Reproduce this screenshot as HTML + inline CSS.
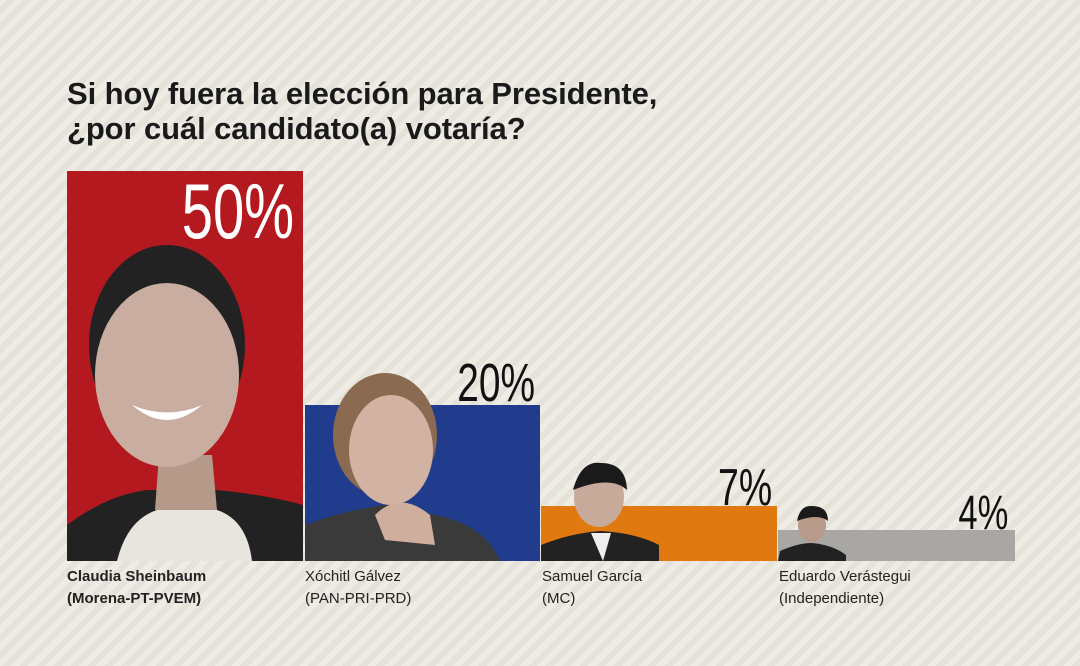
<!DOCTYPE html>
<html><head><meta charset="utf-8"><style>
body{margin:0}
#c{position:relative;width:1080px;height:666px;overflow:hidden;background:#e8e5dc;
background-image:repeating-linear-gradient(-45deg,#e5e2d9 0 6px,#eeece5 6px 12px);
font-family:"Liberation Sans",sans-serif}
.t{position:absolute;left:67px;font-weight:bold;font-size:31px;color:#1a1a1a;letter-spacing:-0.1px}
.bar{position:absolute}
.p{position:absolute;font-family:"Liberation Sans Narrow","Liberation Sans",sans-serif;transform:scaleX(0.72);transform-origin:right bottom;line-height:1;text-align:right}
.l{position:absolute;top:566px;font-size:15px;line-height:22px;color:#222}
</style></head><body><div id="c">
<div class="t" style="top:76px">Si hoy fuera la elección para Presidente,</div>
<div class="t" style="top:111px">¿por cuál candidato(a) votaría?</div>

<div class="bar" style="left:67px;top:171px;width:236px;height:390px;background:#b3191e"></div>
<svg style="position:absolute;left:67px;top:240px" width="236" height="321">
<path d="M0 321 L0 285 Q40 255 80 250 L150 250 Q200 255 236 265 L236 321Z" fill="#222"/>
<path d="M50 321 Q60 280 90 270 L150 270 Q180 280 185 321Z" fill="#e8e4de"/>
<path d="M88 270 L150 270 L145 215 L92 215Z" fill="#b59a8a"/>
<ellipse cx="100" cy="105" rx="78" ry="100" fill="#222"/>
<ellipse cx="100" cy="135" rx="72" ry="92" fill="#c9ada0"/>
<path d="M65 165 Q100 195 135 165 Q100 180 65 165Z" fill="#fff"/>
</svg>
<div class="p" style="right:786px;top:172px;font-size:78px;color:#fff">50%</div>

<div class="bar" style="left:305px;top:405px;width:235px;height:156px;background:#213c8c"></div>
<svg style="position:absolute;left:305px;top:365px" width="235" height="196">
<ellipse cx="80" cy="70" rx="52" ry="62" fill="#8a6a50"/>
<ellipse cx="86" cy="85" rx="42" ry="55" fill="#d2b2a2"/>
<path d="M0 196 L0 160 Q40 145 80 140 L130 150 Q180 160 195 196Z" fill="#3a3a3a"/>
<path d="M70 150 Q95 125 125 150 L130 180 L80 175Z" fill="#cfae9e"/>
</svg>
<div class="p" style="right:545px;top:356px;font-size:54px;color:#111">20%</div>

<div class="bar" style="left:541px;top:506px;width:236px;height:55px;background:#e0790f"></div>
<svg style="position:absolute;left:541px;top:455px" width="120" height="106">
<path d="M0 106 L0 90 Q30 78 60 76 Q95 78 118 90 L118 106Z" fill="#222"/>
<path d="M50 78 L70 78 L62 106Z" fill="#eee"/>
<ellipse cx="58" cy="42" rx="25" ry="30" fill="#c7aa9a"/>
<path d="M32 35 Q40 5 60 8 Q85 8 86 35 Q70 20 32 35Z" fill="#1a1a1a"/>
</svg>
<div class="p" style="right:308px;top:462px;font-size:52px;color:#111">7%</div>

<div class="bar" style="left:778px;top:530px;width:237px;height:31px;background:#a8a7a3"></div>
<svg style="position:absolute;left:778px;top:503px" width="70" height="58">
<path d="M0 58 L2 48 Q20 40 34 40 Q55 42 68 52 L68 58Z" fill="#222"/>
<ellipse cx="34" cy="22" rx="14" ry="17" fill="#b89a8a"/>
<path d="M19 18 Q22 2 34 3 Q50 3 50 18 Q40 10 19 18Z" fill="#1a1a1a"/>
</svg>
<div class="p" style="right:72px;top:490px;font-size:48px;color:#111">4%</div>

<div class="l" style="left:67px"><b>Claudia Sheinbaum<br>(Morena-PT-PVEM)</b></div>
<div class="l" style="left:305px">Xóchitl Gálvez<br>(PAN-PRI-PRD)</div>
<div class="l" style="left:542px">Samuel García<br>(MC)</div>
<div class="l" style="left:779px">Eduardo Verástegui<br>(Independiente)</div>
</div></body></html>
